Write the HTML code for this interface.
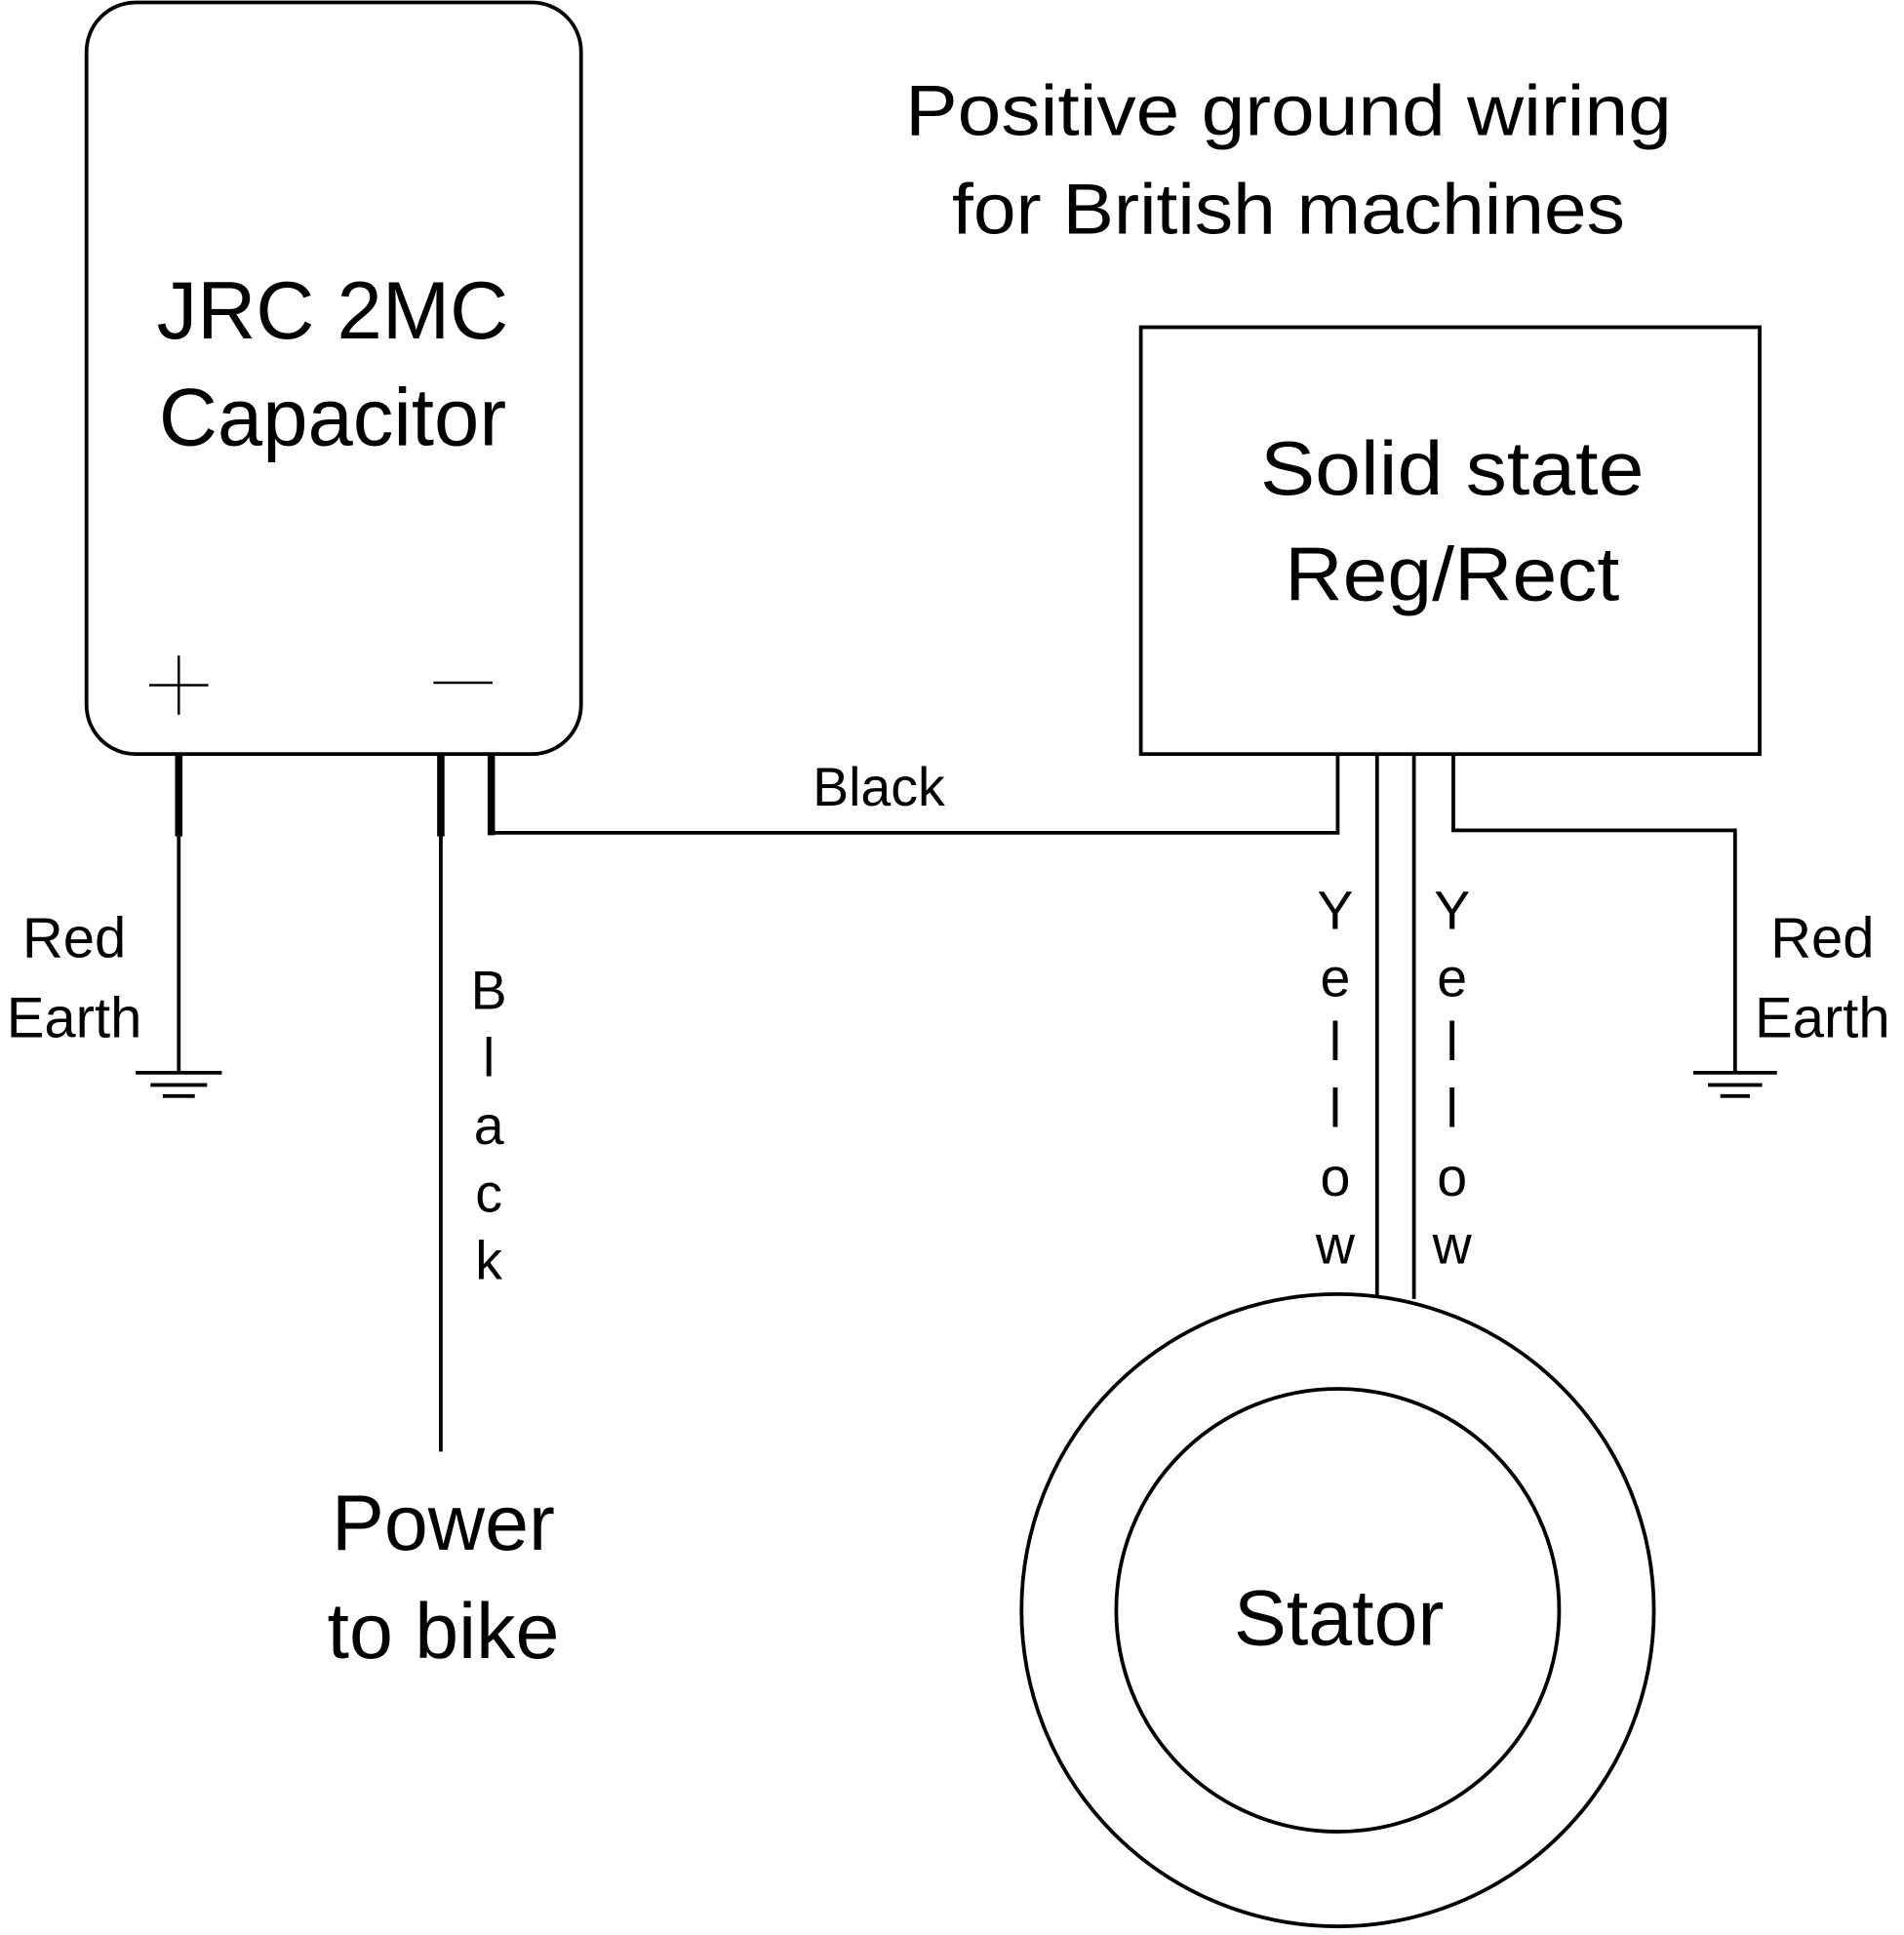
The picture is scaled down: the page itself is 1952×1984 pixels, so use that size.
<!DOCTYPE html>
<html><head><meta charset="utf-8"><style>
html,body{margin:0;padding:0;background:#fff;}
svg{display:block;}
text{font-family:"Liberation Sans",sans-serif;fill:#000;}
</style></head><body>
<svg width="1952" height="1984" viewBox="0 0 1547 1573" xmlns="http://www.w3.org/2000/svg">
<g fill="none" stroke="#000" stroke-width="3">
<rect x="70" y="2" width="402" height="611" rx="40"/>
<rect x="927" y="266" width="503" height="347"/>
<circle cx="1087" cy="1309" r="257"/>
<circle cx="1087" cy="1309" r="180"/>
<line x1="121" y1="557" x2="169" y2="557" stroke-width="2"/>
<line x1="145" y1="533" x2="145" y2="581" stroke-width="2"/>
<line x1="352" y1="555" x2="400" y2="555" stroke-width="2"/>
<line x1="145" y1="613" x2="145" y2="680" stroke-width="6"/>
<line x1="145" y1="680" x2="145" y2="872"/>
<line x1="358" y1="613" x2="358" y2="680" stroke-width="6"/>
<line x1="358" y1="680" x2="358" y2="1180"/>
<line x1="399" y1="613" x2="399" y2="679" stroke-width="6"/>
<polyline points="399,677 1087,677 1087,613"/>
<line x1="1119" y1="613" x2="1119" y2="1054"/>
<line x1="1149" y1="613" x2="1149" y2="1056"/>
<polyline points="1181,613 1181,675 1410,675 1410,872"/>
<line x1="110" y1="872" x2="180" y2="872"/>
<line x1="122" y1="882" x2="168" y2="882"/>
<line x1="132" y1="891" x2="158" y2="891"/>
<line x1="1376" y1="872" x2="1444" y2="872"/>
<line x1="1388" y1="882" x2="1432" y2="882"/>
<line x1="1398" y1="891" x2="1422" y2="891"/>
</g>
<g text-anchor="middle">
<text x="1047" y="110" font-size="58" textLength="623" lengthAdjust="spacingAndGlyphs">Positive ground wiring</text>
<text x="1047" y="190" font-size="58" textLength="547" lengthAdjust="spacingAndGlyphs">for British machines</text>
<text x="270" y="275" font-size="66">JRC 2MC</text>
<text x="270" y="362" font-size="66">Capacitor</text>
<text x="1180" y="402" font-size="62" textLength="312" lengthAdjust="spacingAndGlyphs">Solid state</text>
<text x="1180" y="488" font-size="62" textLength="272" lengthAdjust="spacingAndGlyphs">Reg/Rect</text>
<text x="714" y="655" font-size="44">Black</text>
<text x="60" y="778" font-size="46">Red</text>
<text x="60" y="843" font-size="46">Earth</text>
<text x="1481" y="778" font-size="46">Red</text>
<text x="1481" y="843" font-size="46">Earth</text>
<g font-size="44">
<text x="397" y="820">B</text><text x="397" y="875">l</text><text x="397" y="930">a</text><text x="397" y="985">c</text><text x="397" y="1040">k</text>
<text x="1085" y="755">Y</text><text x="1085" y="810">e</text><text x="1085" y="862">l</text><text x="1085" y="916">l</text><text x="1085" y="972">o</text><text x="1085" y="1027">w</text>
<text x="1180" y="755">Y</text><text x="1180" y="810">e</text><text x="1180" y="862">l</text><text x="1180" y="916">l</text><text x="1180" y="972">o</text><text x="1180" y="1027">w</text>
</g>
<text x="1088" y="1337" font-size="64">Stator</text>
<text x="360" y="1260" font-size="64">Power</text>
<text x="360" y="1348" font-size="64">to bike</text>
</g>
</svg>
</body></html>
